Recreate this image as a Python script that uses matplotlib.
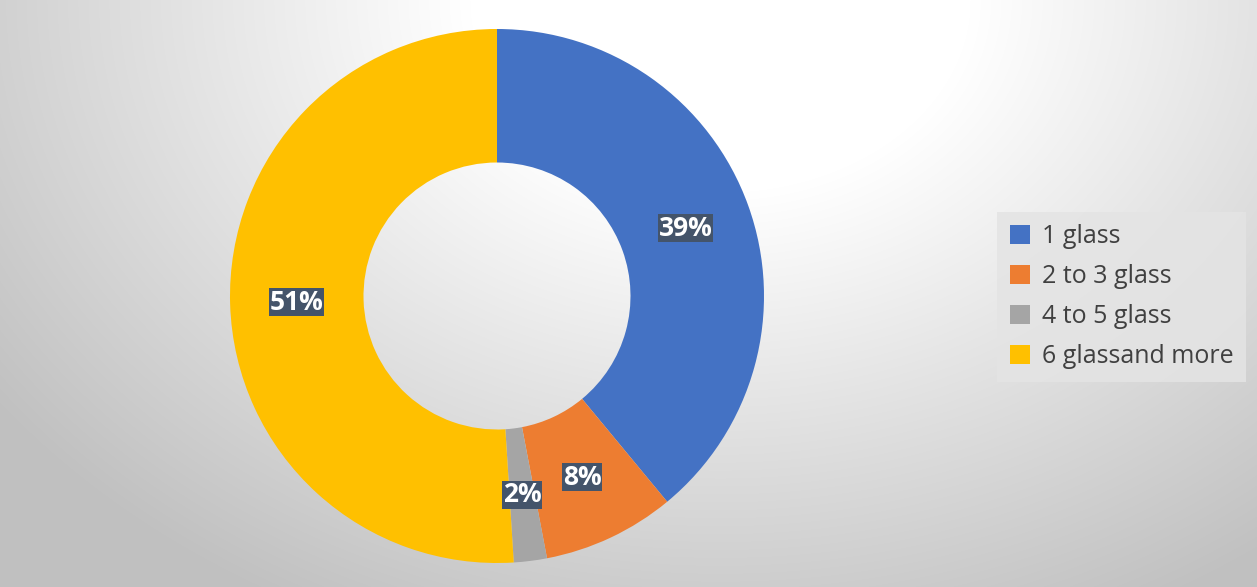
import matplotlib.pyplot as plt
import numpy as np

labels = ['1 glass', '2 to 3 glass', '4 to 5 glass', '6 glassand more']
values = [39, 8, 2, 51]
colors = ['#4472C4', '#ED7D31', '#A5A5A5', '#FFC000']

plt.rcParams['font.family'] = ['Open Sans', 'DejaVu Sans']

W, H = 1257, 587
fig = plt.figure(figsize=(W / 100, H / 100), dpi=100)

# radial grey background, bright spot near the top
bg = fig.add_axes([0, 0, 1, 1])
yy, xx = np.mgrid[0:H, 0:W]
d = np.hypot(xx - 720, yy * 1.3)
shade = np.clip(255 - 63 * (d - 250) / 650, 192, 255) / 255
bg.imshow(np.dstack([shade] * 3), extent=[0, W, H, 0], aspect='auto')
bg.set_axis_off()

# donut: radius 267 px, centre at (497, 296)
ax = fig.add_axes([230 / W, (H - 563) / H, 534 / W, 534 / H])
ax.set_axis_off()
ax.patch.set_alpha(0)

wedges, texts, autotexts = ax.pie(
    values, colors=colors, startangle=90, counterclock=False, radius=1,
    wedgeprops=dict(width=0.5, linewidth=0),
    autopct='%d%%', pctdistance=0.75,
    textprops=dict(color='white', fontsize=19, fontweight='bold'))
ax.set_xlim(-1, 1)
ax.set_ylim(-1, 1)
for t in autotexts:
    t.set_bbox(dict(facecolor='#44546A', edgecolor='none', pad=0.3))

leg = fig.legend(wedges, labels, loc='upper left',
                 bbox_to_anchor=(997 / W, (H - 212) / H),
                 frameon=True, fontsize=18, labelcolor='#404040',
                 handlelength=0.8, handleheight=0.8, handletextpad=0.5,
                 labelspacing=0.6, borderpad=0.5, borderaxespad=0,
                 fancybox=False)
leg.get_frame().set_facecolor('#e4e4e4')
leg.get_frame().set_edgecolor('none')
leg.get_frame().set_alpha(0.85)

fig.savefig('out.png', dpi=100)
